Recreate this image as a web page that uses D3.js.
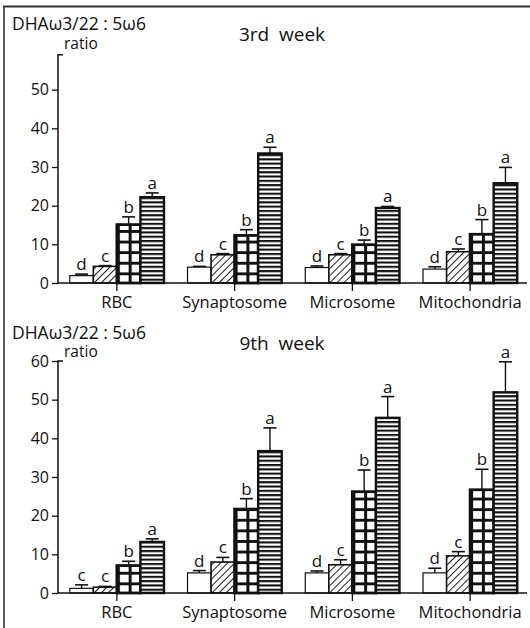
<!DOCTYPE html>
<html>
<head>
<meta charset="utf-8">
<script src="https://cdn.jsdelivr.net/npm/d3@7"></script>
<style>
  html, body { margin: 0; padding: 0; background: #fff; }
  svg { display: block; font-family: "Open Sans", sans-serif; }
  text { fill: #111; }
</style>
</head>
<body>
<svg id="chart" width="530" height="628"></svg>
<script>
// ---- data ----
const categories = ["RBC", "Synaptosome", "Microsome", "Mitochondria"];
const groups = ["g1", "g2", "g3", "g4"];

const week3Means = [[1.9, 4.3, 15.1, 22.2], [4.1, 7.3, 12.3, 33.5], [4.0, 7.3, 9.9, 19.4], [3.6, 8.1, 12.6, 25.8]];
const week3Errors = [[0.4, 0.2, 2.0, 1.1], [0.2, 0.3, 1.5, 1.6], [0.4, 0.3, 1.2, 0.4], [0.6, 0.7, 3.8, 4.1]];
const week3Letters = [["d", "c", "b", "a"], ["d", "c", "b", "a"], ["d", "c", "b", "a"], ["d", "c", "b", "a"]];

const week9Means = [[1.2, 1.5, 7.1, 13.2], [5.2, 8.0, 21.7, 36.7], [5.2, 7.3, 26.2, 45.3], [5.2, 9.6, 26.7, 51.9]];
const week9Errors = [[0.9, 0.2, 1.1, 0.8], [0.6, 1.2, 2.7, 6.0], [0.5, 1.3, 5.6, 5.5], [1.2, 1.1, 5.3, 7.9]];
const week9Letters = [["c", "c", "b", "a"], ["d", "c", "b", "a"], ["d", "c", "b", "a"], ["d", "c", "b", "a"]];

const week3Ticks = [0, 10, 20, 30, 40, 50];
const week9Ticks = [0, 10, 20, 30, 40, 50, 60];
const panelTitles = ["3rd  week", "9th  week"];
const yLabelLine1 = "DHAω3/22 : 5ω6";
const yLabelLine2 = "ratio";

// ---- drawing ----
const svg = d3.select("#chart");
const defs = svg.append("defs");

const left = 58, right = 529, plotH = 232;
const x0 = d3.scaleBand().domain(categories).range([left, right]).paddingInner(0.2).paddingOuter(0.1);
const x1 = d3.scaleBand().domain(groups).range([0, x0.bandwidth()]).padding(0);
const bw = x1.bandwidth();

// patterns (user space of each bar's own group: origin at bar's bottom-left)
const pDiag = defs.append("pattern").attr("id", "pDiag").attr("patternUnits", "userSpaceOnUse")
  .attr("width", 5).attr("height", 5).attr("patternTransform", "rotate(45)");
pDiag.append("rect").attr("width", 5).attr("height", 5).attr("fill", "#fff");
pDiag.append("line").attr("x1", 0).attr("y1", 0).attr("x2", 0).attr("y2", 5)
  .attr("stroke", "#111").attr("stroke-width", 1.9);

const cellW = bw / 2, cellH = 10.6;
const pGrid = defs.append("pattern").attr("id", "pGrid").attr("patternUnits", "userSpaceOnUse")
  .attr("width", cellW).attr("height", cellH);
pGrid.append("rect").attr("width", cellW).attr("height", cellH).attr("fill", "#fff");
pGrid.append("path").attr("d", `M0,0H${cellW}M0,0V${cellH}`).attr("stroke", "#111").attr("stroke-width", 6).attr("fill", "none");

const pHoriz = defs.append("pattern").attr("id", "pHoriz").attr("patternUnits", "userSpaceOnUse")
  .attr("width", 8).attr("height", 4.3);
pHoriz.append("rect").attr("width", 8).attr("height", 4.3).attr("fill", "#fff");
pHoriz.append("line").attr("x1", 0).attr("y1", 0).attr("x2", 8).attr("y2", 0)
  .attr("stroke", "#111").attr("stroke-width", 4.2);

const fills = ["#fff", "url(#pDiag)", "url(#pGrid)", "url(#pHoriz)"];
const strokeW = [1.2, 1.6, 2.8, 2.4];

// frame (top and left lines)
svg.append("line").attr("x1", 3).attr("x2", 530).attr("y1", 6.5).attr("y2", 6.5)
  .attr("stroke", "#333").attr("stroke-width", 2);
svg.append("line").attr("x1", 4).attr("x2", 4).attr("y1", 6).attr("y2", 628)
  .attr("stroke", "#333").attr("stroke-width", 1.6);

function drawPanel(baseY, means, errs, letters, ticks, axisTop, title, labelY, ratioDy, titleY) {
  const g = svg.append("g");
  const y = d3.scaleLinear().domain([0, 60]).range([baseY, baseY - plotH]);

  categories.forEach((cat, ci) => {
    groups.forEach((grp, gi) => {
      const v = means[ci][gi], e = errs[ci][gi];
      const bx = x0(cat) + x1(grp);
      const cx = bw / 2;
      const h = y(0) - y(v);
      const eh = y(0) - y(v + e);
      const gg = g.append("g").attr("transform", `translate(${bx},${y(0)})`);
      gg.append("line").attr("x1", cx).attr("x2", cx).attr("y1", -h).attr("y2", -eh)
        .attr("stroke", "#111").attr("stroke-width", 1.4);
      gg.append("line").attr("x1", cx - 6.5).attr("x2", cx + 6.5).attr("y1", -eh).attr("y2", -eh)
        .attr("stroke", "#111").attr("stroke-width", 1.6);
      gg.append("rect").attr("x", 0).attr("y", -h).attr("width", bw).attr("height", h)
        .attr("fill", fills[gi]).attr("stroke", "#111").attr("stroke-width", strokeW[gi]);
      gg.append("text").attr("x", cx).attr("y", -eh - 4).attr("text-anchor", "middle")
        .attr("font-size", 17).text(letters[ci][gi]);
    });
  });

  // x axis baseline + ticks
  g.append("line").attr("x1", left).attr("x2", 527).attr("y1", y(0)).attr("y2", y(0))
    .attr("stroke", "#111").attr("stroke-width", 1.5);
  categories.forEach(cat => {
    const cx = x0(cat) + x0.bandwidth() / 2;
    g.append("line").attr("x1", cx).attr("x2", cx).attr("y1", y(0)).attr("y2", y(0) + 8)
      .attr("stroke", "#111").attr("stroke-width", 1.3);
    g.append("text").attr("x", cx).attr("y", y(0) + 25).attr("text-anchor", "middle")
      .attr("font-size", 16.5).text(cat);
  });

  // y axis
  const ax = g.append("g").attr("transform", `translate(${left},0)`)
    .call(d3.axisLeft(y).tickValues(ticks).tickSize(6).tickSizeOuter(0).tickPadding(3).tickFormat(d3.format("d")));
  ax.select(".domain").remove();
  ax.selectAll(".tick line").attr("stroke", "#111").attr("stroke-width", 1.3);
  ax.selectAll(".tick text").attr("font-size", 16).attr("font-family", "Open Sans, sans-serif").attr("fill", "#111");
  g.append("path").attr("d", `M${left + 5},${y(axisTop)}H${left}V${y(0)}`)
    .attr("fill", "none").attr("stroke", "#111").attr("stroke-width", 1.5);

  // y label: one text with two lines
  const yl = g.append("text").attr("x", 12).attr("y", labelY);
  yl.append("tspan").attr("x", 12).attr("font-size", 17.5).text(yLabelLine1);
  yl.append("tspan").attr("x", 64).attr("dy", ratioDy).attr("font-size", 15.5).text(yLabelLine2);

  g.append("text").attr("x", 282).attr("y", titleY).attr("text-anchor", "middle")
    .attr("font-size", 19).style("white-space", "pre").text(title);
}

drawPanel(283, week3Means, week3Errors, week3Letters, week3Ticks, 59, panelTitles[0], 30, 19, 41);
drawPanel(593, week9Means, week9Errors, week9Letters, week9Ticks, 60, panelTitles[1], 339, 18, 350);
</script>
</body>
</html>
